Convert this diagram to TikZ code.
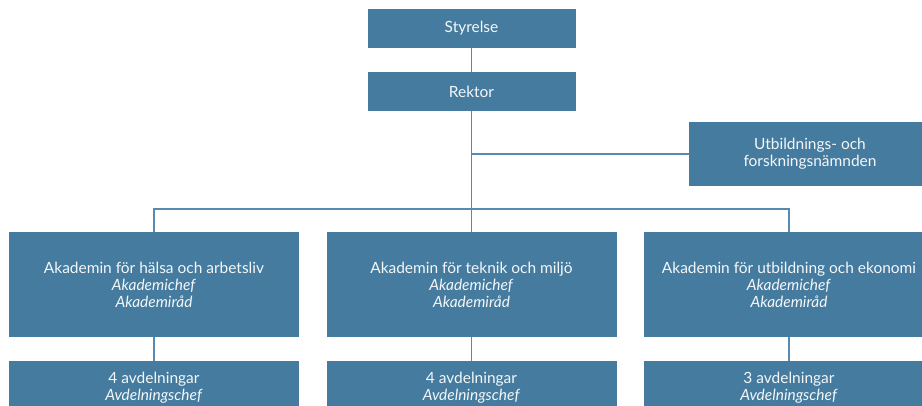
\documentclass[tikz,border=0pt]{standalone}
\usepackage{fontspec}
\setmainfont{Lato}
\usepackage{tikz}
\usetikzlibrary{positioning,calc}
\definecolor{hbox}{RGB}{69,123,158}
\definecolor{hline}{RGB}{88,138,176}
\tikzset{fontscale/.style = {font=\fontsize{11.6}{12.75}\selectfont}}
\tikzstyle{orgbox}=[rectangle, fill=hbox, text=white!94!hbox, inner sep=0pt, align=center, fontscale]
\tikzstyle{topbox}=[orgbox, minimum width=156pt, minimum height=29.25pt]
\tikzstyle{akbox}=[orgbox, minimum width=217.5pt, minimum height=78.75pt]
\tikzstyle{avdbox}=[orgbox, minimum width=217.5pt, minimum height=39pt, anchor=north]

\begin{document}
\begin{tikzpicture}[x=0.75pt, y=-0.75pt, link/.style={draw=hline, line width=1.1pt}]
\clip (0,0) rectangle (922,405);

% top level
\node[topbox] (sty) at (471.5, 28.5) {Styrelse};
\node[topbox] (rek) at (471.5, 91.5) {Rektor};
\node[orgbox, minimum width=181.5pt, minimum height=48pt] (ufn) at (810, 154) {Utbildnings- och\\forskningsnämnden};

% akademier
\node[akbox] (ak1) at (154, 284.5) {Akademin för hälsa och arbetsliv\\\textit{Akademichef}\\\textit{Akademiråd}};
\node[akbox] (ak2) at (471.5, 284.5) {Akademin för teknik och miljö\\\textit{Akademichef}\\\textit{Akademiråd}};
\node[akbox] (ak3) at (789, 284.5) {Akademin för utbildning och ekonomi\\\textit{Akademichef}\\\textit{Akademiråd}};

% avdelningar
\node[avdbox] (avd1) at (154, 361) {4 avdelningar\\\textit{Avdelningschef}};
\node[avdbox] (avd2) at (471.5, 361) {4 avdelningar\\\textit{Avdelningschef}};
\node[avdbox] (avd3) at (789, 361) {3 avdelningar\\\textit{Avdelningschef}};

\coordinate (bar) at (471.5, 209);

% links
\path[link] (sty) -- (rek);
\path[link] (rek) -- (ak2);
\path[link] (rek.south |- ufn.west) -- (ufn.west);
\path[link] (ak1.north) |- (bar) -| (ak3.north);
\path[link] (ak1) -- (avd1);
\path[link] (ak2) -- (avd2);
\path[link] (ak3) -- (avd3);
\end{tikzpicture}
\end{document}
